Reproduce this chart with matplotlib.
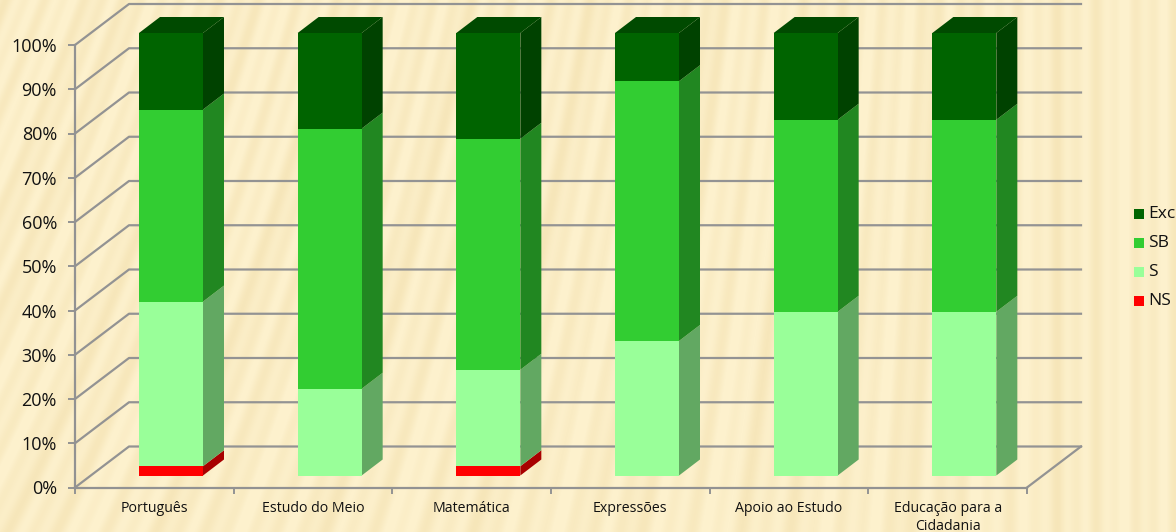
import numpy as np
import matplotlib
matplotlib.use("Agg")
import matplotlib.pyplot as plt
from matplotlib.patches import Polygon

categories = ["Português", "Estudo do Meio", "Matemática", "Expressões", "Apoio ao Estudo", "Educação para a\nCidadania"]
series_names = ["NS", "S", "SB", "Exc"]
ns = [2.1, 0, 2.1, 0, 0, 0]
s = [37.2, 19.6, 21.8, 30.4, 37.0, 37.0]
sb = [43.4, 58.8, 52.2, 58.7, 43.4, 43.4]
exc = [17.3, 21.6, 23.9, 10.9, 19.6, 19.6]
series_values = [ns, s, sb, exc]
front = ["#ff0000", "#99ff99", "#32cd32", "#006400"]
side = ["#a80000", "#62a862", "#218721", "#004200"]
top = ["#a80000", "#62a862", "#218721", "#004a00"]
yticks = list(range(0, 101, 10))

W, H = 1176, 532
fig = plt.figure(figsize=(W / 100, H / 100), dpi=100)
plt.rcParams["font.family"] = ["Open Sans", "DejaVu Sans"]

# background paper texture
bg = fig.add_axes([0, 0, 1, 1], zorder=0)
yy, xx = np.mgrid[0:H, 0:W]
slant = np.clip(1 - xx / 1050.0, 0, 1) * 0.4
t = xx + yy * slant
tex = 0.45 * np.sin(t / 3.1) + 0.35 * np.sin(t / 6.7 + 1) + 0.2 * np.sin(t / 19.0 + 2)
base = np.array([253, 241, 205]) / 255
dark = np.array([244, 226, 178]) / 255
mix = np.clip(tex * 0.5 + 0.25, 0, 1)[..., None]
bg.imshow(base * (1 - mix) + dark * mix, aspect="auto")
bg.axis("off")

# plot frame: 0..6 categories, 0..100 percent
L, R, Y0, Y100 = 75, 1027, 487.5, 45
ax = fig.add_axes([L / W, 1 - Y0 / H, (R - L) / W, (Y0 - Y100) / H], zorder=1)
ax.patch.set_alpha(0)
ax.set_xlim(0, 6)
ax.set_ylim(0, 100)
for k in ("top", "right"):
    ax.spines[k].set_visible(False)
for k in ("left", "bottom"):
    ax.spines[k].set_color("#929292")
    ax.spines[k].set_linewidth(1.6)

DX = 54 / ((R - L) / 6)
DY = 41 / ((Y0 - Y100) / 100)
GREY = "#939393"
for v in yticks:
    ax.plot([0, DX, 6 + DX], [v, v + DY, v + DY], color=GREY, lw=1.6, clip_on=False, zorder=1)
    if v == 0:
        ax.plot([6, 6 + DX], [0, DY], color=GREY, lw=1.6, clip_on=False, zorder=1)

ax.set_yticks(yticks)
ax.set_yticklabels([f"{v}%" for v in yticks], fontsize=13, color="#111111")
ax.set_xticks(range(7))
ax.set_xticklabels([])
ax.set_xticks(np.arange(6) + 0.5, minor=True)
ax.set_xticklabels(categories, minor=True, fontsize=10.2, color="#111111", linespacing=1.2)
ax.tick_params(axis="x", which="minor", length=0, pad=10)
ax.tick_params(axis="x", which="major", color=GREY, width=1.4, length=4)
ax.tick_params(axis="y", color=GREY, width=1.4, length=5, pad=8)

bar_w = 64 / ((R - L) / 6)
ox = 64 / ((R - L) / 6)
oy = 12 / ((Y0 - Y100) / 100)
bx = 21 / ((R - L) / 6)
by = 16 / ((Y0 - Y100) / 100)

for i in range(len(categories)):
    x0 = i + ox
    x1 = x0 + bar_w
    bottom = oy
    for vals, fc, sc, tc in zip(series_values, front, side, top):
        v = vals[i]
        if v <= 0:
            continue
        b, t_ = bottom, bottom + v
        ax.add_patch(Polygon([(x1, b), (x1 + bx, b + by), (x1 + bx, t_ + by), (x1, t_)], closed=True,
                             fc=sc, ec="none", clip_on=False, zorder=3))
        ax.add_patch(Polygon([(x0, b), (x1, b), (x1, t_), (x0, t_)], closed=True,
                             fc=fc, ec="none", clip_on=False, zorder=4))
        bottom = t_
    ax.add_patch(Polygon([(x0, bottom), (x1, bottom), (x1 + bx, bottom + by), (x0 + bx, bottom + by)], closed=True,
                         fc=tc, ec="none", clip_on=False, zorder=4))

# legend, top series first
ly = [214, 243, 272, 301]
for name, c, y in zip(series_names[::-1], front[::-1], ly):
    fig.patches.append(plt.Rectangle((1134 / W, 1 - (y + 5) / H), 10 / W, 10 / H, transform=fig.transFigure,
                                     fc=c, ec="none", zorder=5))
    fig.text(1148 / W, 1 - y / H, name, fontsize=12.5, va="center", ha="left", color="#111111", zorder=6)

fig.savefig("out.png", dpi=100)
